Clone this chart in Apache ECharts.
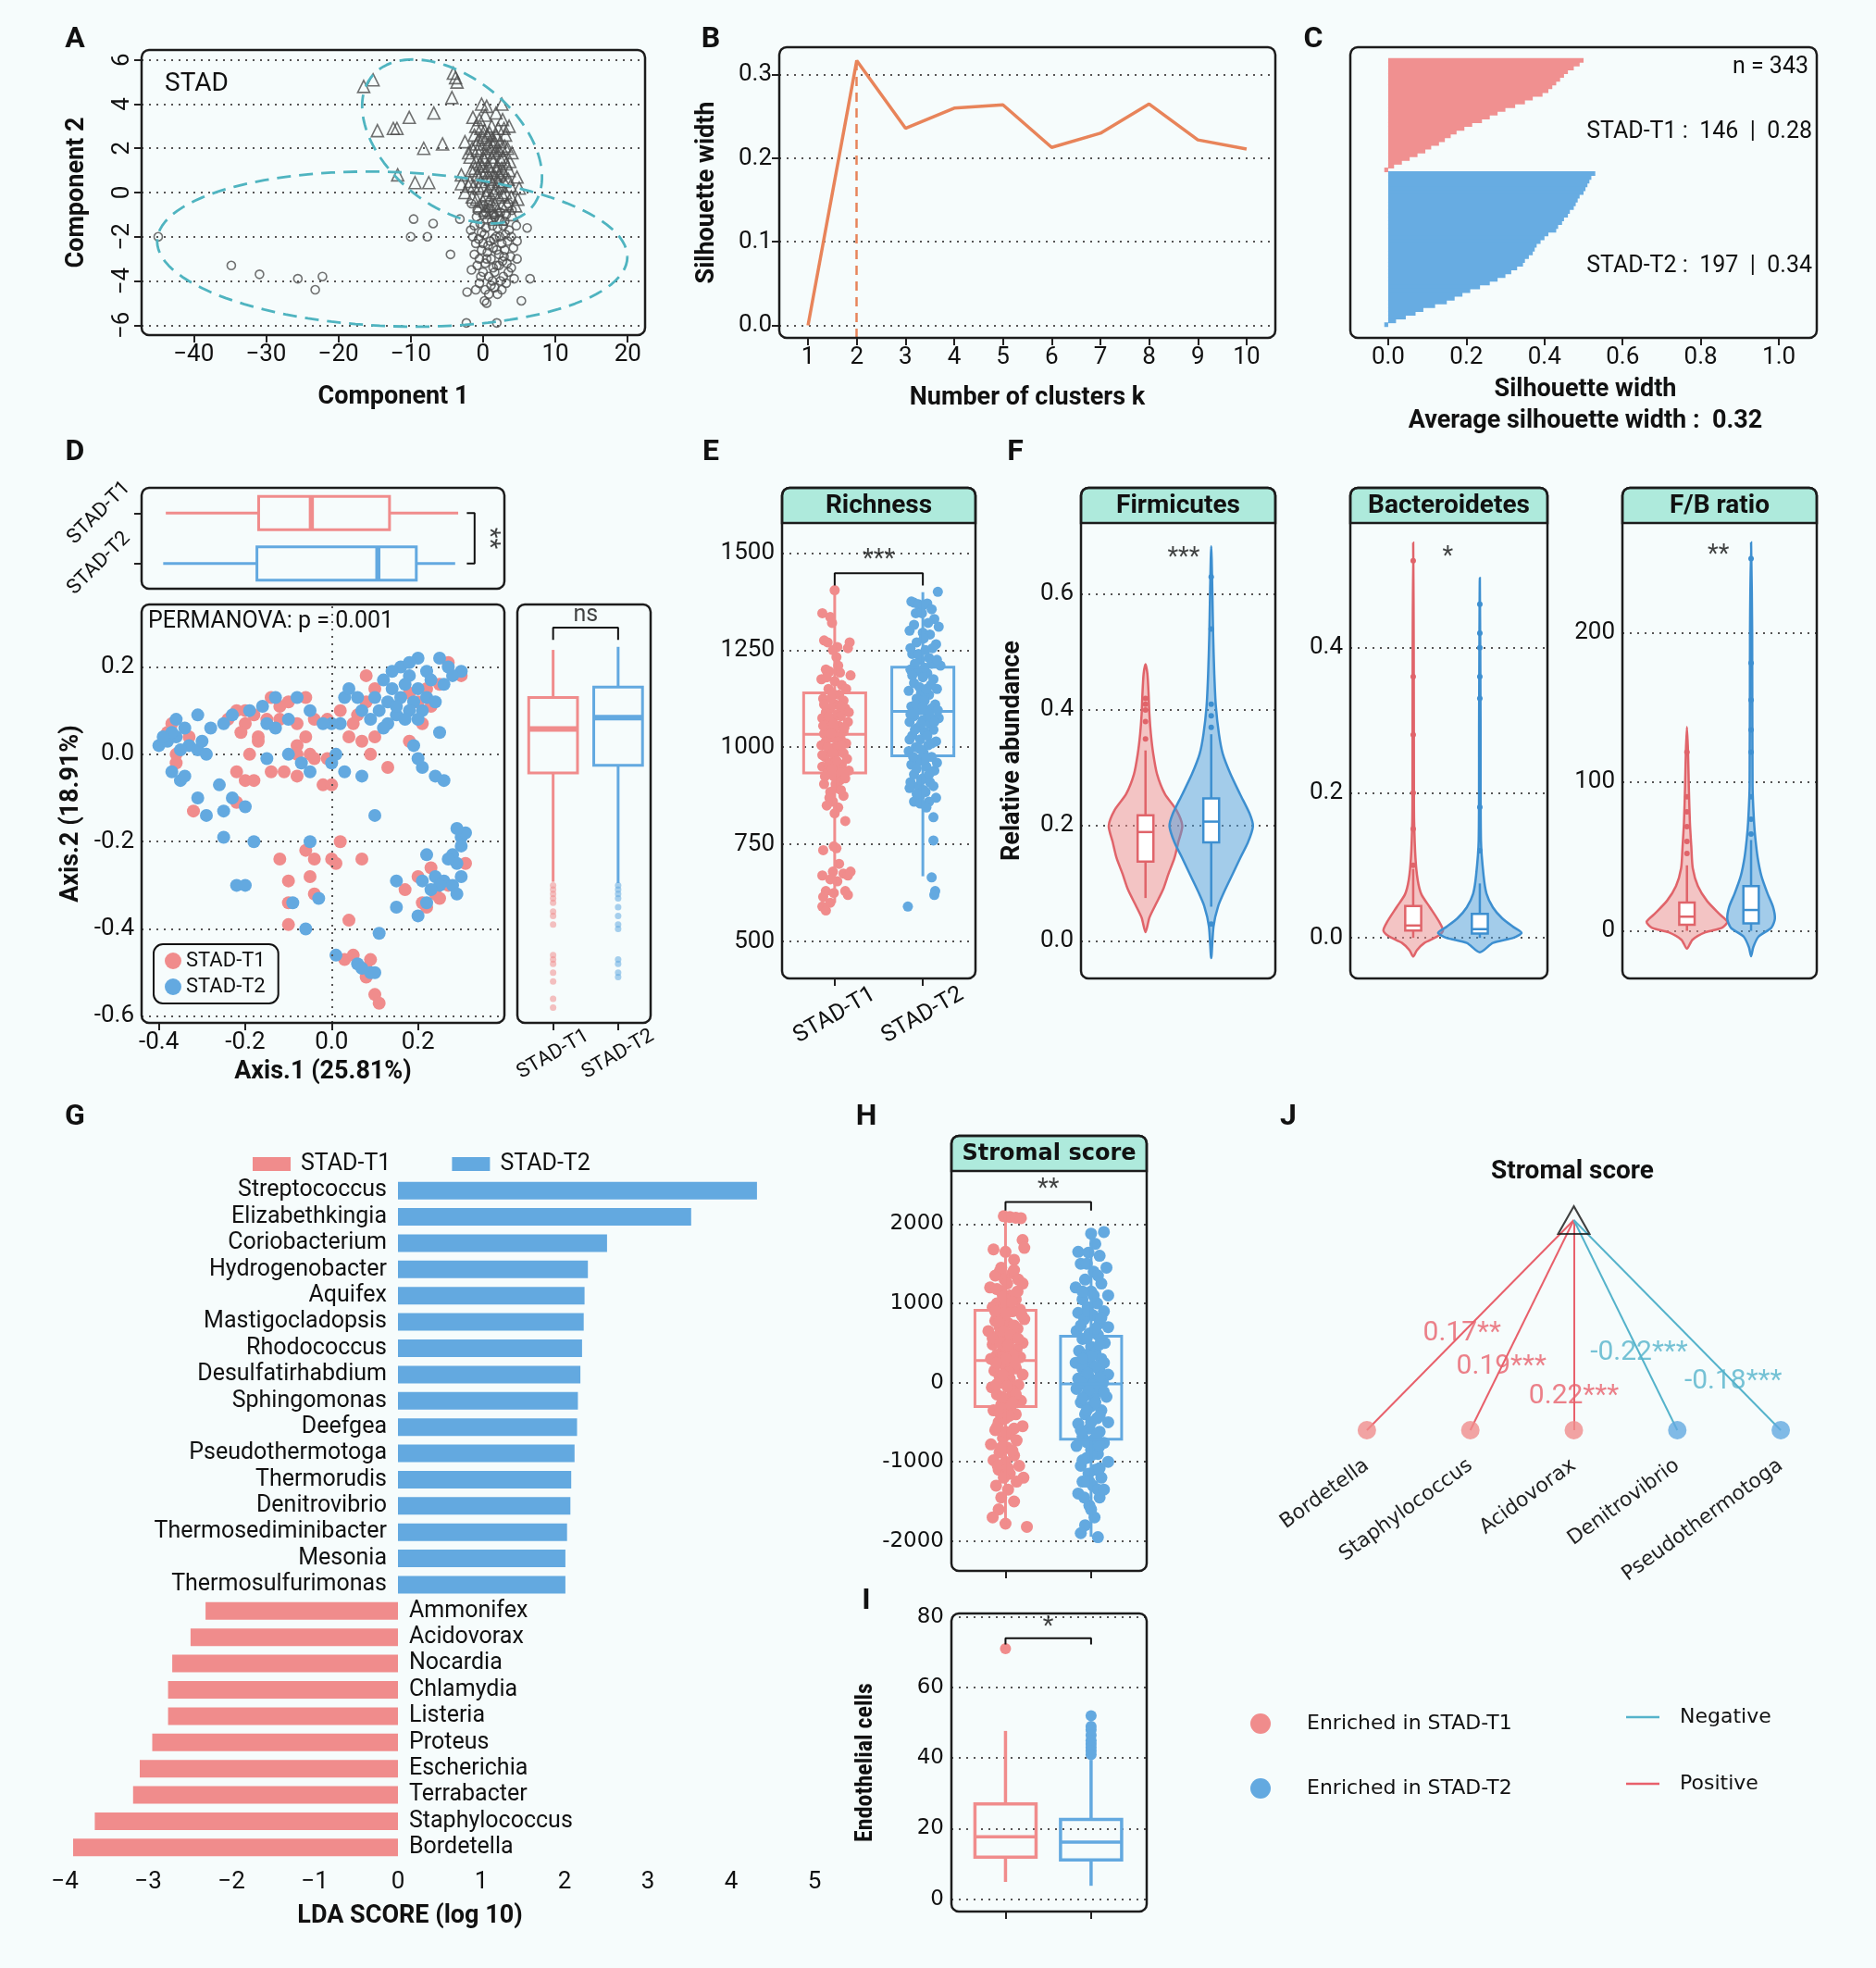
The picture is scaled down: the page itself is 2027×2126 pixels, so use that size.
<!DOCTYPE html>
<html>
<head>
<meta charset="utf-8">
<title>STAD microbiome subtypes</title>
<script src="https://cdn.jsdelivr.net/npm/echarts@6.0.0/dist/echarts.min.js"></script>
<style>
  html, body { margin: 0; padding: 0; background: #f6fcfc; }
  #fig { width: 2027px; height: 2126px; }
</style>
</head>
<body>
<div id="fig"></div>
<script>
var fig = echarts.init(document.getElementById('fig'));

// ---------------- data ----------------
var groups = ['STAD-T1', 'STAD-T2'];

// A: PAM clusters on component 1 / component 2
var aTri = [[-16.5,4.8],[-15.2,5.1],[-4.1,5.4],[-3.8,5.2],[-3.6,5.0],[-4.3,4.3],[-10.2,3.4],[-6.8,3.6],[-14.6,2.8],[-12.4,2.9],[-11.9,2.9],[-8.2,2.0],[-5.6,2.2],[-2.5,2.3],[-2.0,1.8],[-11.8,0.8],[-9.4,0.45],[-7.5,0.45],[-3.0,0.8],[-3.0,0.4],[-2.5,0.0],[-0.2,4.0],[0.5,3.9],[2.6,4.0],[-1.4,3.4],[-0.5,3.3],[2.7,3.3],[3.6,3.0],[1.2,3.0],[-1.0,3.0],[0.2,2.8],[4.0,1.8],[3.7,1.4],[4.7,0.7],[5.0,0.2],[4.8,-0.3],[4.5,-0.6],[4.0,-1.0],[2.5,-1.2],
  [-1.2,2.6],[-0.6,2.4],[0,2.5],[0.6,2.6],[1.2,2.4],[1.8,2.6],[2.4,2.3],[3.0,2.1],[-1.5,2.0],[-0.8,1.9],[-0.2,2.0],[0.4,1.8],[1.0,2.0],[1.6,1.8],[2.2,1.9],[2.8,1.6],[3.4,2.0],[-1.0,1.4],[-0.4,1.3],[0.2,1.5],[0.8,1.2],[1.4,1.4],[2.0,1.2],[2.6,1.1],[3.2,1.3],[-1.6,1.0],[-0.8,0.8],[-0.2,0.9],[0.5,0.7],[1.1,0.9],[1.7,0.7],[2.3,0.8],[2.9,0.5],[3.5,0.6],[-1.3,0.3],[-0.6,0.2],[0.1,0.3],[0.7,0.1],[1.3,0.4],[1.9,0.2],[2.5,0.3],[3.1,0.0],[-0.9,-0.3],[0.0,-0.4],[0.9,-0.3],[1.6,-0.5],[2.2,-0.2],[3.3,-0.5],[0.3,-0.8],[1.2,-0.9],[2.0,-0.8],[-0.5,-0.6],
  [0.3,3.5],[1.8,3.6],[-0.3,2.9],[0.9,2.7],[2.1,2.9],[3.1,2.6],[-0.9,2.2],[0.7,2.2],[1.4,2.1],[2.6,2.0],[-1.8,1.6],[0.0,1.6],[1.2,1.6],[2.4,1.5],[3.6,1.0],[-1.1,1.1],[0.4,1.0],[1.9,1.0],[2.8,0.9],[-0.3,0.5],[1.0,0.6],[2.1,0.5],[3.8,0.3],[-1.8,0.5],[0.4,-0.1],[1.5,0.0],[2.7,-0.1],[3.9,-0.2],[-1.5,-0.2],[1.0,-0.6],[2.6,-0.6],[0.6,-1.1],[-2.0,0.3],[-0.1,1.2],[1.6,2.3],[2.9,2.9]];
var aCirc = [[-44.9,-2.0],[-34.8,-3.3],[-30.9,-3.7],[-25.6,-3.9],[-22.2,-3.8],[-23.2,-4.4],[-9.6,-1.2],[-6.9,-1.4],[-10.0,-2.0],[-7.7,-2.0],[-4.5,-2.8],[-3.2,-1.2],[-2.2,-4.5],[-2.3,-5.9],[1.9,-5.9],[0.2,-4.9],[5.3,-4.9],[6.5,-3.9],[6.1,-1.6],[4.7,-2.2],[4.7,-3.0],
  [-1.6,-0.5],[-0.8,-0.8],[0.0,-1.0],[0.8,-0.7],[1.6,-1.1],[2.4,-0.9],[3.2,-1.0],[4.0,-0.8],[-1.2,-1.5],[-0.4,-1.4],[0.4,-1.6],[1.2,-1.3],[2.0,-1.6],[2.8,-1.5],[3.6,-1.7],[-1.4,-2.0],[-0.6,-2.1],[0.2,-1.9],[1.0,-2.2],[1.8,-2.0],[2.6,-2.3],[3.4,-2.2],[4.2,-2.5],[-0.2,-2.6],[0.6,-2.7],[1.4,-2.5],[2.2,-2.8],[3.0,-2.6],[3.8,-2.9],[-1.2,-2.8],[-0.5,-3.0],[0.3,-3.2],[1.1,-3.0],[1.9,-3.3],[2.7,-3.1],[3.5,-3.6],[0.0,-3.6],[0.8,-3.8],[1.6,-3.6],[2.4,-4.0],[3.2,-4.1],[-0.5,-4.1],[0.3,-4.4],[1.1,-4.2],[2.0,-4.6],[2.6,-4.4],[-1.0,-4.4],[0.5,-5.0],[1.5,-1.0],[0.1,-0.6],[3.5,-0.5],
  [0.4,-0.9],[1.3,-1.5],[2.2,-1.2],[3.0,-1.3],[-0.9,-1.1],[-0.2,-1.8],[0.7,-2.4],[1.5,-2.1],[2.3,-2.0],[3.1,-1.9],[3.9,-2.0],[-1.0,-2.3],[0.0,-2.3],[1.9,-2.6],[2.9,-2.9],[3.3,-3.2],[-0.8,-3.3],[0.5,-3.0],[1.4,-3.4],[2.2,-3.3],[3.9,-3.4],[-0.3,-3.8],[1.3,-4.0],[2.8,-3.8],[0.8,-4.6],[1.6,-4.3],[-1.6,-3.5],[4.6,-1.5],[4.3,-3.9],[-1.7,-1.7]];
// cluster ellipses: x = cx + ax cos t + bx sin t, y = cy + ay cos t + by sin t
var aEllipse = [
  {cx: -4.28, cy: 2.31, ax: 5.40, bx: 11.2, ay: -3.71, by: 0},
  {cx: -12.55, cy: -2.56, ax: 32.5, bx: 0, ay: -0.35, by: -3.49}
];
var aTicksX = [-40, -30, -20, -10, 0, 10, 20];
var aTicksY = [-6, -4, -2, 0, 2, 4, 6];

// B: average silhouette width by k
var bK = [1, 2, 3, 4, 5, 6, 7, 8, 9, 10];
var bSil = [0, 0.317, 0.236, 0.260, 0.264, 0.213, 0.230, 0.265, 0.222, 0.211];
var bTicksY = [0, 0.1, 0.2, 0.3];

// C: silhouette profile, sorted within cluster
var cSilT1 = [0.50,0.49,0.475,0.46,0.45,0.44,0.43,0.42,0.41,0.395,0.37,0.35,0.325,0.30,0.28,0.26,0.24,0.215,0.195,0.175,0.16,0.145,0.13,0.11,0.095,0.075,0.055,0.035,0.015,-0.01];
var cSilT2 = [0.53,0.52,0.515,0.51,0.505,0.50,0.49,0.485,0.48,0.475,0.465,0.46,0.45,0.445,0.435,0.43,0.41,0.40,0.39,0.38,0.375,0.37,0.36,0.35,0.345,0.33,0.315,0.30,0.28,0.26,0.235,0.21,0.19,0.17,0.15,0.12,0.09,0.07,0.045,0.02,-0.01];
var cCounts = [146, 197], cMeans = ['0.28', '0.34'], cN = 343, cAvg = '0.32';
var cTicksX = [0, 0.2, 0.4, 0.6, 0.8, 1.0];

// D: PCoA
var dT1 = [[0.27,0.21],[0.3,0.18],[0.25,0.16],[0.22,0.15],[0.08,0.18],[0.1,0.15],[0.08,0.12],[0.06,0.09],[0.02,0.1],[0.05,0.07],[-0.01,0.08],[0.04,0.04],[0.07,0.03],[0.1,0.04],[0.18,0.14],[0.2,0.12],[0.23,0.11],[0.21,0.07],[0.09,0.0],[0.18,0.03],[0.13,-0.03],
  [-0.06,0.13],[-0.1,0.12],[-0.12,0.11],[-0.14,0.13],[-0.2,0.1],[-0.22,0.1],[-0.18,0.09],[-0.12,0.08],[-0.15,0.08],[-0.08,0.07],[-0.04,0.08],[-0.2,0.07],[-0.24,0.08],[-0.21,0.05],[-0.17,0.04],[-0.06,0.04],[-0.08,0.02],[-0.05,0.0],[-0.04,-0.01],[-0.08,0.0],[-0.01,-0.01],[-0.17,0.03],[-0.19,0.0],[-0.14,-0.04],[-0.11,-0.04],[-0.08,-0.05],[-0.02,-0.07],[0.0,-0.07],[-0.2,-0.06],[-0.18,-0.06],[-0.22,-0.04],[-0.33,0.04],[-0.37,0.07],[-0.38,0.05],[-0.36,0.0],[-0.36,-0.02],[-0.32,-0.13],[-0.22,-0.11],[0.07,-0.24],
  [0.02,-0.2],[-0.06,-0.22],[-0.04,-0.24],[-0.12,-0.24],[0.0,-0.24],[-0.1,-0.29],[-0.05,-0.28],[-0.1,-0.34],[-0.1,-0.39],[0.04,-0.38],[-0.04,-0.32],[0.01,-0.25],
  [0.17,-0.31],[0.2,-0.28],[0.23,-0.26],[0.31,-0.25],[0.27,-0.3],[0.24,-0.32],[0.21,-0.34],[0.22,-0.35],[0.25,-0.33],
  [0.03,-0.47],[0.05,-0.46],[0.08,-0.49],[0.09,-0.47],[0.08,-0.51],[0.1,-0.55],[0.11,-0.57]];
var dT2 = [[0.16,0.2],[0.2,0.22],[0.25,0.22],[0.18,0.18],[0.22,0.19],[0.27,0.2],[0.3,0.19],[0.14,0.15],[0.17,0.16],[0.2,0.15],[0.23,0.17],[0.26,0.16],[0.12,0.17],[0.1,0.13],[0.13,0.12],[0.16,0.13],[0.19,0.12],[0.22,0.13],[0.24,0.12],[0.07,0.1],[0.11,0.1],[0.15,0.09],[0.18,0.1],[0.21,0.1],[0.09,0.08],[0.13,0.07],[0.17,0.08],[0.2,0.08],[0.06,0.13],[0.03,0.13],[0.04,0.15],[0.14,0.19],[0.18,0.21],[0.28,0.18],[0.15,0.11],[0.12,0.06],[0.25,0.05],[0.19,0.02],[0.21,-0.03],[0.24,-0.05],[0.26,-0.06],[0.2,-0.01],[0.1,-0.14],[0.02,0.07],[0.0,0.07],
  [-0.4,0.02],[-0.38,0.03],[-0.36,0.04],[-0.34,0.06],[-0.33,0.02],[-0.31,0.01],[-0.35,0.01],[-0.37,0.05],[-0.3,0.03],[-0.29,0.0],[-0.39,0.04],[-0.36,0.08],[-0.31,0.09],[-0.28,0.06],[-0.25,0.07],[-0.37,-0.04],[-0.35,-0.06],[-0.34,-0.05],[-0.31,-0.1],[-0.29,-0.14],[-0.26,-0.07],[-0.25,-0.13],[-0.23,-0.1],[-0.2,-0.12],[-0.25,-0.19],[-0.18,-0.2],[-0.22,-0.3],[-0.2,-0.3],
  [-0.23,0.09],[-0.19,0.1],[-0.16,0.11],[-0.13,0.13],[-0.1,0.08],[-0.08,0.13],[-0.05,0.1],[-0.02,0.07],[-0.13,0.06],[-0.15,0.07],[-0.1,0.0],[-0.07,-0.02],[-0.05,-0.04],[0.0,-0.02],[0.03,-0.04],[0.07,-0.05],[0.01,0.0],[-0.15,-0.01],[-0.05,-0.2],[-0.09,-0.34],[-0.06,-0.4],[-0.03,-0.33],
  [0.3,-0.19],[0.31,-0.18],[0.29,-0.17],[0.3,-0.21],[0.28,-0.23],[0.29,-0.25],[0.27,-0.24],[0.22,-0.23],[0.24,-0.28],[0.26,-0.29],[0.28,-0.3],[0.29,-0.32],[0.25,-0.3],[0.23,-0.31],[0.22,-0.34],[0.2,-0.37],[0.15,-0.35],[0.15,-0.29],[0.3,-0.28],[0.21,-0.29],
  [0.01,-0.46],[0.06,-0.48],[0.07,-0.49],[0.09,-0.5],[0.1,-0.5],[0.11,-0.41]];
// box stats: [min, q1, median, q3, max]
var dBoxAx1 = [[-0.384, -0.169, -0.047, 0.134, 0.293], [-0.390, -0.173, 0.107, 0.196, 0.286]];
var dBoxAx2 = [[-0.292, -0.043, 0.058, 0.130, 0.239], [-0.295, -0.025, 0.084, 0.154, 0.246]];
var dOutAx2 = [[-0.30,-0.31,-0.32,-0.33,-0.34,-0.36,-0.37,-0.39,-0.46,-0.47,-0.48,-0.50,-0.52,-0.56,-0.58],
               [-0.30,-0.31,-0.32,-0.33,-0.35,-0.37,-0.39,-0.40,-0.47,-0.48,-0.50,-0.51]];
var dTicksX = [-0.4, -0.2, 0, 0.2];
var dTicksY = [-0.6, -0.4, -0.2, 0, 0.2];

// E: richness
var eT1 = [[1.0,1404],[0.86,1345],[0.95,1335],[0.97,1320],[0.88,1275],[0.92,1270],[1.03,1258],[1.17,1270],[1.15,1255],[0.98,1250],[1.02,1232],[0.9,1200],[0.94,1195],[1.06,1192],[1.18,1185],[0.85,1175],[1.0,1170],[1.08,1160],[0.93,1150],[0.97,1140],[1.05,1135],[0.87,1125],[1.1,1120],[1.01,1110],[0.95,1100],[1.12,1100],[0.9,1090],[1.03,1085],[1.07,1080],[0.86,1075],[0.98,1070],[1.15,1065],[0.92,1060],[1.05,1055],[1.0,1050],[0.95,1045],[1.1,1040],[0.88,1035],[1.02,1030],[0.97,1025],[1.07,1020],[0.9,1015],[1.13,1010],[0.85,1005],[1.0,1000],[0.94,995],[1.05,990],[1.1,985],[0.89,975],[1.0,970],[0.96,960],[1.08,955],[0.86,950],[1.03,945],[1.16,940],[0.92,935],[0.99,925],[1.06,915],[0.88,905],[1.01,895],[0.95,885],[1.1,875],[0.98,860],[1.04,845],[1.12,810],[0.99,745],[0.87,735],[1.02,740],[0.98,680],[1.1,675],[0.86,670],[1.15,670],[0.95,660],[1.03,655],[0.9,630],[1.15,620],[0.87,615],[0.99,625],[0.86,590],[0.9,580],[0.95,600],[1.12,630],[1.18,680],
  [0.91,1180],[1.04,1210],[0.96,1125],[1.13,1150],[0.88,1110],[1.07,1105],[0.93,1080],[1.16,1090],[0.99,1060],[0.87,1055],[1.11,1050],[0.96,1035],[1.04,1015],[0.92,1000],[1.08,1005],[0.98,985],[0.86,980],[1.14,970],[1.02,965],[0.93,955],[1.06,935],[0.97,945],[0.89,925],[1.12,920],[1.01,905],[0.94,870],[1.07,890],[0.91,850],[1.0,830],[1.05,700]];
var eT2 = [[2.17,1400],[1.87,1375],[1.9,1372],[1.95,1368],[2.0,1365],[2.05,1370],[2.1,1355],[1.92,1345],[2.13,1330],[2.18,1310],[1.85,1300],[2.0,1295],[2.08,1290],[1.93,1270],[2.15,1265],[2.03,1250],[1.88,1240],[1.97,1225],[2.1,1215],[2.2,1210],[1.86,1200],[1.95,1195],[2.05,1190],[2.0,1180],[2.12,1175],[1.9,1165],[2.16,1150],[1.84,1145],[1.98,1140],[2.07,1135],[1.93,1125],[2.02,1120],[2.14,1110],[1.87,1105],[2.1,1100],[1.96,1095],[2.05,1090],[1.9,1080],[2.18,1075],[2.0,1070],[1.85,1065],[2.08,1060],[1.94,1050],[2.12,1045],[2.02,1040],[1.88,1030],[1.97,1020],[2.15,1015],[2.06,1005],[1.92,1000],[1.84,990],[2.01,985],[2.1,975],[1.96,965],[1.87,955],[2.04,950],[2.13,940],[1.9,930],[2.0,920],[2.08,910],[1.95,900],[1.85,895],[2.03,885],[1.97,875],[2.15,870],[1.9,860],[2.12,820],[2.12,760],[2.1,665],[2.14,630],[2.13,620],[1.83,590],
  [1.99,1345],[2.06,1320],[1.9,1315],[2.01,1280],[2.11,1255],[1.86,1255],[1.95,1240],[2.07,1230],[2.16,1225],[1.91,1215],[2.02,1205],[1.88,1185],[2.09,1160],[1.96,1155],[2.04,1150],[1.92,1110],[2.0,1105],[2.17,1095],[1.86,1085],[2.08,1080],[1.98,1060],[2.13,1065],[1.91,1045],[2.05,1030],[1.85,1020],[2.1,1010],[1.97,995],[2.03,970],[1.89,975],[2.16,960],[1.93,945],[2.07,930],[1.98,915],[1.86,910],[2.12,900],[2.01,890],[1.93,880],[2.07,860],[1.97,855],[2.04,845]];
var eBox = [[600, 934, 1033, 1140, 1404], [668, 978, 1092, 1206, 1399]];
var eTicksY = [500, 750, 1000, 1250, 1500];

// F: phylum violins, profiles are [value, half width]
var fPanels = [
  {title: 'Firmicutes', sig: '***', ticks: [0, 0.2, 0.4, 0.6], digits: 1,
   prof: [[[0.479,0],[0.462,0.029],[0.427,0.047],[0.393,0.059],[0.358,0.082],[0.324,0.118],[0.289,0.176],[0.255,0.294],[0.227,0.47],[0.2,0.56],[0.172,0.5],[0.144,0.44],[0.117,0.35],[0.089,0.265],[0.062,0.147],[0.041,0.059],[0.016,0]],
          [[0.683,0],[0.6,0.018],[0.531,0.029],[0.462,0.047],[0.406,0.071],[0.358,0.118],[0.324,0.176],[0.289,0.294],[0.254,0.441],[0.22,0.588],[0.199,0.635],[0.171,0.559],[0.144,0.441],[0.116,0.324],[0.088,0.206],[0.061,0.106],[0.026,0.035],[-0.029,0]]],
   box: [[0.075, 0.138, 0.189, 0.218, 0.33], [0.06, 0.171, 0.207, 0.247, 0.358]],
   out: [[0.35, 0.38, 0.40, 0.41, 0.42], [0.37, 0.39, 0.41, 0.54, 0.63, 0.03]]},
  {title: 'Bacteroidetes', sig: '*', ticks: [0, 0.2, 0.4], digits: 1,
   prof: [[[0.545,0],[0.40,0.008],[0.2,0.011],[0.16,0.014],[0.11,0.034],[0.08,0.067],[0.06,0.123],[0.042,0.251],[0.022,0.391],[0.01,0.447],[0.002,0.363],[-0.007,0.168],[-0.017,0.056],[-0.026,0]],
          [[0.496,0],[0.3,0.011],[0.134,0.017],[0.086,0.056],[0.061,0.1],[0.042,0.196],[0.027,0.335],[0.015,0.503],[0.007,0.626],[0.0,0.503],[-0.007,0.196],[-0.02,0]]],
   box: [[0.0, 0.01, 0.017, 0.044, 0.095], [0.0, 0.006, 0.012, 0.033, 0.075]],
   out: [[0.10, 0.15, 0.20, 0.28, 0.36, 0.52], [0.12, 0.18, 0.33, 0.36, 0.40, 0.42, 0.46]]},
  {title: 'F/B ratio', sig: '**', ticks: [0, 100, 200], digits: 0,
   prof: [[[137,0],[120,0.017],[97,0.029],[73,0.046],[56,0.069],[42,0.091],[30,0.171],[20,0.314],[11,0.514],[6,0.629],[2,0.543],[-1,0.286],[-6,0.086],[-12,0]],
          [[261,0],[200,0.017],[97,0.023],[73,0.046],[61,0.069],[49,0.103],[37,0.16],[25,0.257],[16,0.343],[8,0.371],[2,0.314],[-4,0.114],[-11,0.034],[-17,0]]],
   box: [[0, 4, 9.5, 19, 44], [0, 5, 14, 30, 61]],
   out: [[52, 60, 70, 80, 90, 120], [65, 75, 90, 120, 135, 155, 180, 250]]}
];

// G: LEfSe
var gTaxa = ['Streptococcus','Elizabethkingia','Coriobacterium','Hydrogenobacter','Aquifex','Mastigocladopsis','Rhodococcus','Desulfatirhabdium','Sphingomonas','Deefgea','Pseudothermotoga','Thermorudis','Denitrovibrio','Thermosediminibacter','Mesonia','Thermosulfurimonas','Ammonifex','Acidovorax','Nocardia','Chlamydia','Listeria','Proteus','Escherichia','Terrabacter','Staphylococcus','Bordetella'];
var gLDA = [4.31,3.52,2.51,2.28,2.24,2.23,2.21,2.19,2.16,2.15,2.12,2.08,2.07,2.03,2.01,2.01,-2.31,-2.49,-2.71,-2.76,-2.76,-2.95,-3.10,-3.18,-3.64,-3.90];
var gTicksX = [-4, -3, -2, -1, 0, 1, 2, 3, 4, 5];

// H: stromal score
var hT1 = [[0.98,2100],[1.05,2090],[1.12,2080],[1.18,2075],[1.2,1800],[1.22,1700],[0.86,1680],[1.0,1650],[1.1,1550],[0.93,1400],[1.08,1380],[1.15,1300],[0.88,1350],[0.99,1300],[1.2,1250],[0.82,1200],[0.95,1150],[1.05,1100],[1.12,1050],[0.9,1000],[1.0,980],[0.85,950],[1.17,920],[1.08,900],[0.96,870],[1.22,800],[0.88,780],[1.03,750],[0.93,700],[1.14,680],[0.8,650],[1.0,620],[1.1,600],[0.9,580],[1.05,540],[1.2,500],[0.85,480],[0.97,450],[1.13,420],[1.02,400],[0.9,350],[1.17,320],[0.83,300],[1.07,280],[0.95,250],[1.0,200],[1.12,180],[0.87,150],[1.2,100],[0.93,80],[1.05,50],[0.98,0],[1.15,-30],[0.84,-60],[1.08,-100],[0.9,-150],[1.0,-200],[1.18,-230],[0.95,-280],[1.06,-300],[0.86,-350],[1.12,-400],[1.0,-450],[0.92,-500],[1.2,-550],[0.88,-600],[1.05,-650],[0.97,-700],[1.13,-730],[0.83,-780],[1.02,-820],[0.93,-880],[1.1,-920],[0.86,-980],[1.0,-1000],[1.16,-1050],[0.92,-1100],[1.05,-1150],[0.98,-1200],[1.21,-1200],[0.89,-1300],[1.03,-1350],[0.95,-1450],[1.1,-1500],[0.92,-1600],[0.85,-1700],[1.0,-1780],[1.25,-1820],
  [0.95,1450],[1.1,1420],[1.02,1250],[0.9,1180],[1.14,1150],[0.97,1080],[1.07,1020],[0.88,900],[1.0,860],[1.19,850],[0.92,760],[1.1,720],[0.98,650],[1.06,600],[0.85,560],[1.15,550],[0.94,500],[1.03,470],[1.09,350],[0.96,320],[1.0,300],[0.89,250],[1.11,220],[1.04,130],[0.97,100],[0.9,-20],[1.02,-50],[1.12,-150],[0.96,-180],[1.08,-250],[0.93,-380],[1.04,-420],[0.9,-560],[1.1,-580],[1.0,-620],[0.95,-820],[1.08,-860],[0.91,-1050],[1.03,-1080],[1.13,-1250]];
var hT2 = [[2.15,1900],[2.0,1880],[1.85,1650],[1.97,1640],[2.1,1600],[2.18,1450],[1.88,1500],[2.03,1400],[1.93,1300],[2.12,1250],[1.82,1200],[2.0,1150],[2.2,1100],[1.9,1050],[2.07,1000],[1.96,950],[2.15,900],[1.85,880],[2.02,850],[1.92,800],[2.1,750],[2.2,700],[1.83,650],[1.98,620],[2.08,600],[1.9,550],[2.16,500],[2.0,450],[1.86,400],[2.05,380],[1.95,350],[2.12,300],[1.82,250],[2.0,220],[1.9,180],[2.1,150],[2.2,100],[1.97,80],[1.85,50],[2.05,30],[2.14,0],[1.92,-20],[2.0,-50],[1.83,-80],[2.1,-100],[1.95,-150],[2.18,-180],[2.04,-200],[1.88,-250],[2.0,-300],[2.12,-350],[1.93,-400],[2.07,-450],[2.2,-500],[1.85,-520],[1.98,-580],[2.1,-620],[1.9,-680],[2.03,-720],[2.15,-760],[1.83,-800],[2.0,-850],[2.08,-900],[1.95,-950],[2.2,-1000],[1.88,-1050],[2.05,-1100],[1.97,-1150],[2.12,-1200],[1.9,-1250],[2.02,-1300],[1.85,-1400],[2.1,-1450],[1.98,-1550],[2.04,-1700],[1.93,-1800],[1.88,-1900],[2.08,-1950],
  [2.05,1750],[1.95,1500],[2.08,1350],[1.9,1150],[2.03,1100],[1.97,900],[2.12,820],[1.88,720],[2.05,680],[1.95,560],[2.1,480],[2.0,330],[1.9,300],[2.15,250],[2.05,200],[1.96,120],[2.1,60],[1.88,0],[2.02,-30],[2.08,-60],[1.97,-100],[2.15,-120],[1.9,-200],[2.05,-250],[1.95,-350],[2.1,-420],[2.0,-500],[1.88,-600],[2.07,-650],[1.95,-750],[2.1,-800],[2.0,-920],[1.9,-980],[2.1,-1080],[1.98,-1250],[2.08,-1350],[1.92,-1450],[2.15,-1350],[2.0,-1600],[1.95,-1250]];
var hBox = [[-1822, -304, 277, 913, 2110], [-1945, -715, -17, 585, 1884]];
var hTicksY = [-2000, -1000, 0, 1000, 2000];

// I: endothelial cells
var iBox = [[4.9, 11.9, 17.7, 27.0, 47.7], [3.8, 11.1, 16.2, 22.6, 39.5]];
var iOut = [[71], [52, 49, 48, 46.5, 45, 44, 43, 42, 41]];
var iTicksY = [0, 20, 40, 60, 80];

// J: correlation with stromal score
var jTaxa = ['Bordetella', 'Staphylococcus', 'Acidovorax', 'Denitrovibrio', 'Pseudothermotoga'];
var jCor = [0.17, 0.19, 0.22, -0.22, -0.18];
var jSig = ['**', '***', '***', '***', '***'];
var jGroup = [0, 0, 0, 1, 1];

// ---------------- style / layout ----------------
var BG = '#f6fcfc', FRAME = '#1c1c1c', STRIP = '#aeeadc';
var RED = '#f08c8c', BLUE = '#63a9e0';
var RED_V = '#e0646a', BLUE_V = '#3d8fd0';
var RED_FILL = 'rgba(240,140,140,0.5)', BLUE_FILL = 'rgba(80,155,215,0.5)';
var EDGE_RED = '#e8606b', EDGE_BLUE = '#55b3cb';
var TEAL = '#4fb4c0', ORANGE = '#e8845a', GREY = '#4d4d4d';
var FONT = 'Roboto, "Noto Sans", sans-serif';
var COND = '"Roboto Condensed", "Liberation Sans Narrow", "DejaVu Sans Condensed", Roboto, sans-serif';
var WIDE = '"DejaVu Sans", Verdana, sans-serif';
var GC = [RED, BLUE], GV = [RED_V, BLUE_V], GF = [RED_FILL, BLUE_FILL];

var L = {
  A: [153, 54, 544, 308], B: [842, 51, 536, 314], C: [1459, 51, 504, 314],
  Dt: [153, 527, 392, 109], Dm: [153, 653, 392, 452], Dr: [559, 653, 144, 452],
  E: [845, 565, 209, 492], F1: [1168, 565, 210, 492], F2: [1459, 565, 213, 492], F3: [1753, 565, 210, 492],
  G: [70, 1272, 810, 738], H: [1028, 1265, 211, 432], I: [1028, 1743, 211, 322], J: [1421, 1318, 559, 227]
};
var ORDER = ['A', 'B', 'C', 'Dt', 'Dm', 'Dr', 'E', 'F1', 'F2', 'F3', 'G', 'H', 'I', 'J'];
var GI = {};
ORDER.forEach(function (k, i) { GI[k] = i; });
var STRIP_H = 38;

function minus(v) { return String(v).replace('-', '\u2212'); }
function fixed(d) { return function (v) { return Number(v).toFixed(d); }; }
function plain(v) { return String(v); }

function vAxis(gi, min, max, o) {
  o = o || {};
  var ax = {
    type: 'value', gridIndex: gi, min: min, max: max, inverse: !!o.inverse,
    axisLine: {show: false, onZero: false},
    axisTick: {show: !!o.ticks && o.marks !== false, length: 8, lineStyle: {color: '#222', width: 2}},
    axisLabel: {show: !!o.ticks && !o.noLabels, fontSize: o.fs || 26, fontFamily: o.ff || FONT, color: o.color || '#111',
                margin: o.margin || 8, rotate: o.rotate || 0, formatter: o.fmt || plain},
    splitLine: {show: !!o.grid, lineStyle: {type: [2, 6], color: '#555', width: 2}}
  };
  if (o.align) { ax.axisLabel.align = o.align; ax.axisLabel.verticalAlign = 'middle'; }
  if (o.ticks) { ax.axisTick.customValues = o.ticks; ax.axisLabel.customValues = o.ticks; }
  if (o.name) {
    ax.name = o.name; ax.nameLocation = 'middle'; ax.nameGap = o.nameGap;
    ax.nameTextStyle = {fontSize: o.nfs || 27, fontWeight: 'bold', fontFamily: o.nff || FONT, color: '#111'};
  }
  return ax;
}
function grpName(v) { return groups[Math.round(v) - 1]; }

// ---------------- grids & axes ----------------
var grids = ORDER.map(function (k) {
  var r = L[k];
  return {left: r[0], top: r[1], width: r[2], height: r[3], containLabel: false, outerBoundsMode: 'none'};
});

var xAxes = [], yAxes = [];
// A
xAxes.push(vAxis(0, -47.2, 22.4, {ticks: aTicksX, fmt: minus, name: 'Component 1', nameGap: 54}));
yAxes.push(vAxis(0, -6.45, 6.45, {ticks: aTicksY, fmt: minus, rotate: 90, grid: true, name: 'Component 2', nameGap: 56}));
// B
xAxes.push(vAxis(1, 0.41, 10.59, {ticks: bK, name: 'Number of clusters k', nameGap: 52}));
yAxes.push(vAxis(1, -0.015, 0.333, {ticks: bTicksY, fmt: fixed(1), grid: true, name: 'Silhouette width', nameGap: 64}));
// C
var cPad = 3, cT1 = [], cT2 = [], cRows = [], i;
for (i = 0; i < cPad; i++) { cT1.push(null); cT2.push(null); }
cSilT1.forEach(function (v) { cT1.push(v); cT2.push(null); });
cSilT2.forEach(function (v) { cT1.push(null); cT2.push(v); });
for (i = 0; i < cPad; i++) { cT1.push(null); cT2.push(null); }
for (i = 0; i < cT1.length; i++) cRows.push(String(i));
xAxes.push(vAxis(2, -0.097, 1.097, {ticks: cTicksX, fmt: fixed(1)}));
yAxes.push({type: 'category', gridIndex: 2, data: cRows, inverse: true, show: false});
// D
var DX = [-0.44, 0.40], DY = [-0.615, 0.343];
xAxes.push(vAxis(3, DX[0], DX[1]));
yAxes.push(vAxis(3, 0.5, 2.5, {ticks: [1, 2], inverse: true, fmt: grpName, rotate: 45, fs: 22, margin: 46, align: 'center'}));
xAxes.push(vAxis(4, DX[0], DX[1], {ticks: dTicksX, fmt: fixed(1), name: 'Axis.1 (25.81%)', nameGap: 40}));
yAxes.push(vAxis(4, DY[0], DY[1], {ticks: dTicksY, fmt: fixed(1), marks: false, grid: true, name: 'Axis.2 (18.91%)', nameGap: 62}));
xAxes.push(vAxis(5, 0.45, 2.5, {ticks: [1, 2], fmt: grpName, rotate: 30, fs: 22, margin: 34, align: 'center'}));
yAxes.push(vAxis(5, DY[0], DY[1]));
// E
var EX = [0.403, 2.597];
xAxes.push(vAxis(6, EX[0], EX[1], {ticks: [1, 2], fmt: grpName, rotate: 30, fs: 25, margin: 40, align: 'center'}));
yAxes.push(vAxis(6, 405, 1577, {ticks: eTicksY, marks: false, grid: true}));
// F
var FX = [[0.018, 2.976], [0.056, 3.015], [-0.006, 3.024]];
var FY = [[-0.064, 0.723], [-0.056, 0.572], [-32, 274]];
fPanels.forEach(function (p, k) {
  var gi = GI['F' + (k + 1)];
  xAxes.push(vAxis(gi, FX[k][0], FX[k][1]));
  var yo = {ticks: p.ticks, marks: false, grid: true, fmt: fixed(p.digits)};
  if (k === 0) { yo.name = 'Relative abundance'; yo.nameGap = 60; }
  yAxes.push(vAxis(gi, FY[k][0], FY[k][1], yo));
});
// G
xAxes.push(vAxis(10, -4, 5, {ticks: gTicksX, fmt: minus, marks: false, margin: 10}));
yAxes.push({type: 'category', gridIndex: 10, data: gTaxa, inverse: true, show: false});
// H, I
var HX = [0.368, 2.65];
xAxes.push(vAxis(11, HX[0], HX[1], {ticks: [1, 2], noLabels: true}));
yAxes.push(vAxis(11, -2376, 2670, {ticks: hTicksY, marks: false, grid: true, ff: WIDE, fs: 23}));
xAxes.push(vAxis(12, HX[0], HX[1], {ticks: [1, 2], noLabels: true}));
yAxes.push(vAxis(12, -3.5, 81, {ticks: iTicksY, marks: false, grid: true, ff: WIDE, fs: 23,
  name: 'Endothelial cells', nameGap: 80, nff: COND, nfs: 26}));
// J: taxa sit at integer positions, the hub above the middle one
var jIdx = jTaxa.map(function (t, j) { return j; });
xAxes.push(vAxis(13, -0.5, jTaxa.length - 0.5, {ticks: jIdx, marks: false, rotate: 36, margin: 36, fs: 22, ff: WIDE,
  color: '#222', fmt: function (v) { return jTaxa[Math.round(v)]; }}));
yAxes.push(vAxis(13, 0, 1));

// ---------------- series helpers ----------------
function scatter(gi, data, color, size, o) {
  o = o || {};
  return {type: 'scatter', name: o.name, xAxisIndex: gi, yAxisIndex: gi, data: data, symbol: o.symbol || 'circle',
    symbolSize: size, silent: true, z: o.z || 3,
    itemStyle: o.hollow ? {color: 'rgba(0,0,0,0)', borderColor: color, borderWidth: 1.6} : {color: color, opacity: o.opacity || 1}};
}
function boxSeries(gi, pos, stats, color, hw, o) {
  o = o || {};
  return {
    type: 'custom', xAxisIndex: gi, yAxisIndex: gi, silent: true, z: o.z || 4,
    data: [[pos].concat(stats)],
    renderItem: function (params, api) {
      var p = api.value(0), lo = api.value(1), q1 = api.value(2), md = api.value(3), q3 = api.value(4), hi = api.value(5);
      var pt = o.horizontal ? function (a, v) { return api.coord([v, a]); } : function (a, v) { return api.coord([a, v]); };
      var lw = o.lw || 3;
      function seg(a, b, w) {
        return {type: 'line', shape: {x1: a[0], y1: a[1], x2: b[0], y2: b[1]}, style: {stroke: color, lineWidth: w || lw}};
      }
      var c1 = pt(p - hw, q1), c2 = pt(p + hw, q3);
      return {type: 'group', children: [
        seg(pt(p, lo), pt(p, q1)),
        seg(pt(p, q3), pt(p, hi)),
        {type: 'rect', shape: {x: Math.min(c1[0], c2[0]), y: Math.min(c1[1], c2[1]),
          width: Math.abs(c2[0] - c1[0]), height: Math.abs(c2[1] - c1[1])},
          style: {stroke: color, lineWidth: lw, fill: o.fill || 'rgba(0,0,0,0)'}},
        seg(pt(p - hw, md), pt(p + hw, md), o.mlw || lw)
      ]};
    }
  };
}
function violinSeries(gi, pos, prof, stroke, fill) {
  return {
    type: 'custom', xAxisIndex: gi, yAxisIndex: gi, silent: true, z: 2,
    data: [[pos, prof[0][0]]],
    renderItem: function (params, api) {
      var p = api.value(0), pts = [], k;
      for (k = 0; k < prof.length; k++) pts.push(api.coord([p + prof[k][1], prof[k][0]]));
      for (k = prof.length - 2; k >= 1; k--) pts.push(api.coord([p - prof[k][1], prof[k][0]]));
      return {type: 'polygon', shape: {points: pts, smooth: 0.25},
        style: {fill: fill, stroke: stroke, lineWidth: 2.5}};
    }
  };
}
function note(gi, x, y, text, o) {
  o = o || {};
  return {type: 'scatter', xAxisIndex: gi, yAxisIndex: gi, silent: true, symbolSize: 1, z: 10,
    itemStyle: {color: 'rgba(0,0,0,0)'}, data: [[x, y]],
    label: {show: true, position: 'inside', formatter: text, fontSize: o.fs || 27,
      fontFamily: o.ff || FONT, color: o.color || '#111', rotate: o.rotate || 0}};
}
function bracket(gi, a, b, at, drop, horiz) {
  var d = horiz ? [[at - drop, a], [at, a], [at, b], [at - drop, b]]
                : [[a, at - drop], [a, at], [b, at], [b, at - drop]];
  return {type: 'line', xAxisIndex: gi, yAxisIndex: gi, data: d, symbol: 'none', silent: true, z: 6,
    lineStyle: {color: '#111', width: 2}};
}

// ---------------- series ----------------
var series = [];

// A
series.push(scatter(0, aTri, GREY, 13, {symbol: 'triangle', hollow: true}));
series.push(scatter(0, aCirc, GREY, 9, {hollow: true}));
aEllipse.forEach(function (e) {
  var d = [];
  for (var k = 0; k <= 120; k++) {
    var t = k / 120 * 2 * Math.PI;
    d.push([e.cx + e.ax * Math.cos(t) + e.bx * Math.sin(t), e.cy + e.ay * Math.cos(t) + e.by * Math.sin(t)]);
  }
  series.push({type: 'line', xAxisIndex: 0, yAxisIndex: 0, data: d, symbol: 'none', silent: true, z: 5,
    lineStyle: {color: TEAL, width: 2.8, type: [15, 9]}});
});

// B
var bBest = bSil.indexOf(Math.max.apply(null, bSil));
series.push({type: 'line', xAxisIndex: 1, yAxisIndex: 1, symbol: 'none', silent: true,
  data: bK.map(function (k, j) { return [k, bSil[j]]; }),
  lineStyle: {color: ORANGE, width: 3.5},
  markLine: {silent: true, symbol: 'none', label: {show: false}, lineStyle: {color: ORANGE, width: 2.5, type: [10, 7]},
    data: [[{coord: [bK[bBest], -0.015]}, {coord: [bK[bBest], bSil[bBest]]}]]}});

// C (bars a bit wider than their band so the profile is solid)
[cT1, cT2].forEach(function (d, g) {
  series.push({type: 'bar', xAxisIndex: 2, yAxisIndex: 2, data: d, stack: 'sil', barWidth: 5, silent: true,
    itemStyle: {color: g ? '#67ace2' : '#f09090'}});
});

// D top: axis 1 boxplots
dBoxAx1.forEach(function (s, g) {
  series.push(boxSeries(3, g + 1, s, GC[g], 0.33, {horizontal: true, lw: 3, mlw: 5.5}));
});
series.push(bracket(3, 1, 2, 0.331, 0.018, true));
series.push(note(3, 0.362, 1.5, '**', {rotate: -90}));
// D main: PCoA scatter
series.push(scatter(4, dT1, RED, 14, {name: 'STAD-T1'}));
series.push(scatter(4, dT2, BLUE, 14, {name: 'STAD-T2'}));
series[series.length - 1].markLine = {silent: true, symbol: 'none', label: {show: false},
  lineStyle: {type: [2, 6], color: '#555', width: 2}, data: [{xAxis: 0}]};
// D right: axis 2 boxplots
dBoxAx2.forEach(function (s, g) {
  series.push(scatter(5, dOutAx2[g].map(function (v) { return [g + 1, v]; }), GC[g], 7, {opacity: 0.55}));
  series.push(boxSeries(5, g + 1, s, GC[g], 0.375, {lw: 3, mlw: 6}));
});
series.push(bracket(5, 1, 2, 0.29, 0.028));
series.push(note(5, 1.5, 0.318, 'ns', {fs: 25}));

// E
series.push(scatter(6, eT1, RED, 11));
series.push(scatter(6, eT2, BLUE, 11));
eBox.forEach(function (s, g) { series.push(boxSeries(6, g + 1, s, GC[g], 0.352, {lw: 3, z: 5})); });
series.push(bracket(6, 1, 2, 1448, 32));
series.push(note(6, 1.5, 1480, '***'));

// F
fPanels.forEach(function (p, k) {
  var gi = GI['F' + (k + 1)];
  p.prof.forEach(function (pr, g) { series.push(violinSeries(gi, g + 1, pr, GV[g], GF[g])); });
  p.box.forEach(function (s, g) {
    series.push(boxSeries(gi, g + 1, s, GV[g], 0.12, {lw: 2.5, fill: '#ffffff', z: 5}));
    series.push(scatter(gi, p.out[g].map(function (v) { return [g + 1, v]; }), GV[g], 6, {z: 6}));
  });
});
series.push(note(7, 1.58, 0.662, '***'));
series.push(note(8, 1.52, 0.525, '*'));
series.push(note(9, 1.49, 252, '**'));

// G
series.push({type: 'bar', name: 'STAD-T1', xAxisIndex: 10, yAxisIndex: 10, stack: 'lda', barWidth: 19, silent: true,
  data: gLDA.map(function (v) { return v < 0 ? v : null; }), itemStyle: {color: RED},
  label: {show: true, position: 'right', distance: 12, formatter: function (p) { return p.name; },
    fontSize: 25, fontFamily: FONT, color: '#111'}});
series.push({type: 'bar', name: 'STAD-T2', xAxisIndex: 10, yAxisIndex: 10, stack: 'lda', barWidth: 19, silent: true,
  data: gLDA.map(function (v) { return v > 0 ? v : null; }), itemStyle: {color: BLUE},
  label: {show: true, position: 'left', distance: 12, formatter: function (p) { return p.name; },
    fontSize: 25, fontFamily: FONT, color: '#111'}});

// H
series.push(scatter(11, hT1, RED, 13));
series.push(scatter(11, hT2, BLUE, 13));
hBox.forEach(function (s, g) { series.push(boxSeries(11, g + 1, s, GC[g], 0.357, {lw: 3, z: 5})); });
series.push(bracket(11, 1, 2, 2280, 110));
series.push(note(11, 1.5, 2430, '**'));

// I
iBox.forEach(function (s, g) {
  series.push(scatter(12, iOut[g].map(function (v) { return [g + 1, v]; }), GC[g], 12));
  series.push(boxSeries(12, g + 1, s, GC[g], 0.357, {lw: 3.5}));
});
series.push(bracket(12, 1, 2, 74, 1.8));
series.push(note(12, 1.5, 77, '*'));

// J
var jHub = (jTaxa.length - 1) / 2;
var jLabelT = [0.46, 0.30, 0.16, 0.37, 0.23];
series.push({type: 'lines', coordinateSystem: 'cartesian2d', xAxisIndex: 13, yAxisIndex: 13, silent: true, z: 2,
  lineStyle: {width: 2, opacity: 1},
  data: jTaxa.map(function (t, j) {
    return {coords: [[jHub, 1], [j, 0]], lineStyle: {color: jCor[j] > 0 ? EDGE_RED : EDGE_BLUE}};
  })});
series.push({type: 'scatter', xAxisIndex: 13, yAxisIndex: 13, silent: true, symbolSize: 20, z: 3,
  data: jTaxa.map(function (t, j) { return {value: [j, 0], itemStyle: {color: GC[jGroup[j]]}}; })});
series.push({type: 'scatter', xAxisIndex: 13, yAxisIndex: 13, silent: true, symbol: 'triangle', symbolSize: [34, 30], z: 4,
  data: [[jHub, 1]], itemStyle: {color: 'rgba(0,0,0,0)', borderColor: '#111', borderWidth: 2}});
jTaxa.forEach(function (t, j) {
  var tt = jLabelT[j];
  series.push(note(13, j + tt * (jHub - j), tt, jCor[j].toFixed(2) + jSig[j],
    {color: jCor[j] > 0 ? EDGE_RED : EDGE_BLUE, fs: 30}));
});

// ---------------- frames, strips and texts ----------------
var gfx = [];
function frame(x, y, w, h) {
  gfx.push({type: 'rect', z: 50, silent: true, shape: {x: x, y: y, width: w, height: h, r: 8},
    style: {fill: 'none', stroke: FRAME, lineWidth: 2.5}});
}
function text(x, y, s, o) {
  o = o || {};
  gfx.push({type: 'text', z: 60, silent: true, x: x, y: y, rotation: o.rotation || 0,
    style: {text: s, fontSize: o.fs || 26, fontWeight: o.bold ? 'bold' : 'normal', fontFamily: o.ff || FONT,
      fill: o.color || '#111', align: o.align || 'left', verticalAlign: 'middle'}});
}
['A', 'B', 'C', 'Dt', 'Dm', 'Dr', 'I'].forEach(function (k) { var r = L[k]; frame(r[0], r[1], r[2], r[3]); });
var strips = [['E', 'Richness', FONT, 28], ['F1', 'Firmicutes', FONT, 28], ['F2', 'Bacteroidetes', FONT, 28],
              ['F3', 'F/B ratio', FONT, 28], ['H', 'Stromal score', WIDE, 24]];
strips.forEach(function (s) {
  var r = L[s[0]], top = r[1] - STRIP_H;
  gfx.push({type: 'rect', z: 49, silent: true, shape: {x: r[0], y: top, width: r[2], height: STRIP_H, r: [8, 8, 0, 0]},
    style: {fill: STRIP, stroke: FRAME, lineWidth: 2.5}});
  frame(r[0], top, r[2], r[3] + STRIP_H);
  text(r[0] + r[2] / 2, top + STRIP_H / 2 + 1, s[1], {bold: true, align: 'center', ff: s[2], fs: s[3]});
});

// panel letters
[['A', 81, 43], ['B', 768, 43], ['C', 1419, 43], ['D', 81, 489], ['E', 768, 489], ['F', 1097, 489],
 ['G', 81, 1207], ['H', 936, 1207], ['I', 936, 1730], ['J', 1392, 1207]].forEach(function (p) {
  text(p[1], p[2], p[0], {bold: true, fs: 32, align: 'center'});
});

text(178, 91, 'STAD', {fs: 28});
text(1954, 73, 'n = ' + cN, {align: 'right', fs: 25});
text(1958, 143, groups[0] + ' :  ' + cCounts[0] + '  |  ' + cMeans[0], {align: 'right', fs: 25});
text(1958, 288, groups[1] + ' :  ' + cCounts[1] + '  |  ' + cMeans[1], {align: 'right', fs: 25});
text(1713, 421, 'Silhouette width', {align: 'center', bold: true, fs: 27});
text(1713, 455, 'Average silhouette width :  ' + cAvg, {align: 'center', bold: true, fs: 27});
text(160, 672, 'PERMANOVA: p = 0.001', {fs: 25});
text(443, 2070, 'LDA SCORE (log 10)', {align: 'center', bold: true, fs: 27});
text(1699, 1266, 'Stromal score', {align: 'center', bold: true, fs: 28});

// J legend
gfx.push({type: 'circle', z: 60, silent: true, shape: {cx: 1362, cy: 1862, r: 11}, style: {fill: RED}});
gfx.push({type: 'circle', z: 60, silent: true, shape: {cx: 1362, cy: 1932, r: 11}, style: {fill: BLUE}});
text(1412, 1862, 'Enriched in ' + groups[0], {ff: WIDE, fs: 22});
text(1412, 1932, 'Enriched in ' + groups[1], {ff: WIDE, fs: 22});
gfx.push({type: 'line', z: 60, silent: true, shape: {x1: 1757, y1: 1855, x2: 1793, y2: 1855}, style: {stroke: EDGE_BLUE, lineWidth: 2.5}});
gfx.push({type: 'line', z: 60, silent: true, shape: {x1: 1757, y1: 1927, x2: 1793, y2: 1927}, style: {stroke: EDGE_RED, lineWidth: 2.5}});
text(1815, 1855, 'Negative', {ff: WIDE, fs: 22});
text(1815, 1927, 'Positive', {ff: WIDE, fs: 22});

fig.setOption({
  backgroundColor: BG,
  animation: false,
  grid: grids,
  xAxis: xAxes,
  yAxis: yAxes,
  legend: [
    {data: groups, left: 268, top: 1240, icon: 'rect', itemWidth: 41, itemHeight: 15, itemGap: 66,
     selectedMode: false, textStyle: {fontSize: 25, fontFamily: FONT, color: '#111', padding: [0, 0, 0, 6]}},
    {data: groups, orient: 'vertical', left: 166, top: 1020, icon: 'circle', itemWidth: 18, itemHeight: 18, itemGap: 6,
     selectedMode: false, padding: [7, 14, 7, 12], borderColor: '#111', borderWidth: 2, borderRadius: 10,
     textStyle: {fontSize: 22, fontFamily: FONT, color: '#111'}}
  ],
  graphic: {elements: gfx},
  series: series
});
</script>
</body>
</html>
